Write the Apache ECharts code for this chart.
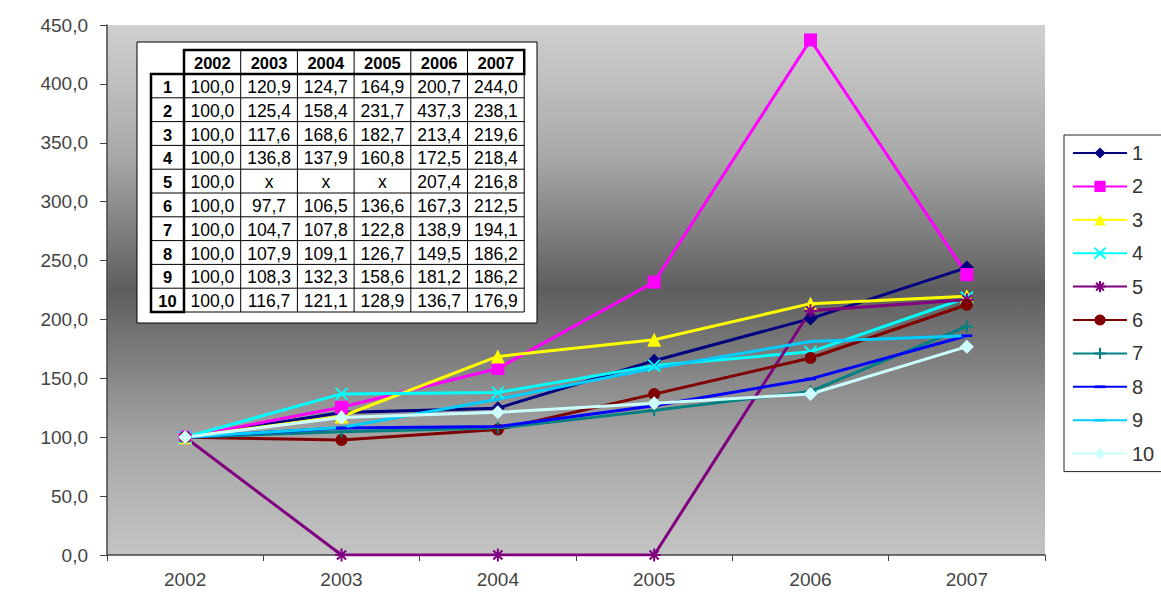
<!DOCTYPE html>
<html>
<head>
<meta charset="utf-8">
<script src="https://cdn.jsdelivr.net/npm/echarts@6/dist/echarts.min.js"></script>
<style>
  html, body { margin: 0; padding: 0; background: #fff; }
  #main { width: 1161px; height: 597px; }
</style>
</head>
<body>
<div id="main"></div>
<script>
// years along the x axis
var years = ['2002', '2003', '2004', '2005', '2006', '2007'];
// y axis
var yMin = 0, yMax = 450, yStep = 50;

// series values (null = "x" in the table, plotted as 0)
var s1  = [100.0, 120.9, 124.7, 164.9, 200.7, 244.0];
var s2  = [100.0, 125.4, 158.4, 231.7, 437.3, 238.1];
var s3  = [100.0, 117.6, 168.6, 182.7, 213.4, 219.6];
var s4  = [100.0, 136.8, 137.9, 160.8, 172.5, 218.4];
var s5  = [100.0, null, null, null, 207.4, 216.8];
var s6  = [100.0, 97.7, 106.5, 136.6, 167.3, 212.5];
var s7  = [100.0, 104.7, 107.8, 122.8, 138.9, 194.1];
var s8  = [100.0, 107.9, 109.1, 126.7, 149.5, 186.2];
var s9  = [100.0, 108.3, 132.3, 158.6, 181.2, 186.2];
var s10 = [100.0, 116.7, 121.1, 128.9, 136.7, 176.9];

var names = ['1', '2', '3', '4', '5', '6', '7', '8', '9', '10'];
var allData = [s1, s2, s3, s4, s5, s6, s7, s8, s9, s10];

var colors = ['#000080', '#ff00ff', '#ffff00', '#00ffff', '#800080',
              '#800000', '#008080', '#0000ff', '#00ccff', '#ccffff'];

var X_PATH = 'path://M0,0L10,10M10,0L0,10';
var STAR_PATH = 'path://M0,5L10,5M5,0L5,10M1.5,1.5L8.5,8.5M8.5,1.5L1.5,8.5';
var PLUS_PATH = 'path://M0,5L10,5M5,0L5,10';
// the two lone moves only widen the box so the dash stays flat
var DASH_PATH = 'path://M0,0M10,10M0,3.8L10,3.8L10,6.2L0,6.2Z';

var symbols = ['diamond', 'rect', 'triangle', X_PATH, STAR_PATH,
               'circle', PLUS_PATH, DASH_PATH, DASH_PATH, 'diamond'];
var symbolSizes = [14, 13, 14, 12, 13, 12, 12, 11, 10, 14];
var stroked = [false, false, false, true, true, false, true, false, false, false];

function fmt(v) {
    return v == null ? 'x' : v.toFixed(1).replace('.', ',');
}

var series = allData.map(function (arr, i) {
    return {
        name: names[i],
        type: 'line',
        data: arr.map(function (v) { return v == null ? 0 : v; }),
        symbol: symbols[i],
        symbolSize: symbolSizes[i],
        showSymbol: i !== 8,
        lineStyle: { color: colors[i], width: 3 },
        itemStyle: stroked[i]
            ? { color: colors[i], borderColor: colors[i], borderWidth: 2 }
            : { color: colors[i], borderWidth: 0 },
        emphasis: { disabled: true },
        animation: false
    };
});

// data table drawn inside the plot
var tbl = { x: 137, y: 42, w: 400, h: 281, labX: 151, labW: 33, colX: 184, colW: 56.7, headY: 50, headH: 24, rowH: 23.8 };
var g = [];
g.push({ type: 'rect', shape: { x: tbl.x, y: tbl.y, width: tbl.w, height: tbl.h },
         style: { fill: '#fff', stroke: '#000', lineWidth: 1 }, z: 100 });
var bodyY = tbl.headY + tbl.headH;
var bodyH = tbl.rowH * names.length;
var txtFont = '17.5px "Liberation Sans", Arial, sans-serif';
var boldFont = 'bold 16.5px "Liberation Sans", Arial, sans-serif';
// thin grid lines in body
for (var r = 1; r <= names.length; r++) {
    var yy = bodyY + r * tbl.rowH;
    g.push({ type: 'line', shape: { x1: tbl.labX, y1: yy, x2: tbl.colX + 6 * tbl.colW, y2: yy },
             style: { stroke: '#000', lineWidth: 1 }, z: 101 });
}
for (var c = 1; c <= years.length; c++) {
    var xx = tbl.colX + c * tbl.colW;
    g.push({ type: 'line', shape: { x1: xx, y1: tbl.headY, x2: xx, y2: bodyY + bodyH },
             style: { stroke: '#000', lineWidth: 1 }, z: 101 });
}
// thick borders round header row and label column
g.push({ type: 'rect', shape: { x: tbl.colX, y: tbl.headY, width: 6 * tbl.colW, height: tbl.headH },
         style: { fill: null, stroke: '#000', lineWidth: 2.5 }, z: 102 });
g.push({ type: 'rect', shape: { x: tbl.labX, y: bodyY, width: tbl.labW, height: bodyH },
         style: { fill: null, stroke: '#000', lineWidth: 2.5 }, z: 102 });
years.forEach(function (yr, c) {
    g.push({ type: 'text', x: tbl.colX + (c + 0.5) * tbl.colW, y: tbl.headY + tbl.headH / 2 + 1,
             style: { text: yr, font: boldFont, fill: '#000', align: 'center', verticalAlign: 'middle' }, z: 103 });
});
names.forEach(function (nm, r) {
    var cy = bodyY + (r + 0.5) * tbl.rowH + 1;
    g.push({ type: 'text', x: tbl.labX + tbl.labW / 2, y: cy,
             style: { text: nm, font: boldFont, fill: '#000', align: 'center', verticalAlign: 'middle' }, z: 103 });
    allData[r].forEach(function (v, c) {
        g.push({ type: 'text', x: tbl.colX + (c + 0.5) * tbl.colW, y: cy,
                 style: { text: fmt(v), font: txtFont, fill: '#000', align: 'center', verticalAlign: 'middle' }, z: 103 });
    });
});

var chart = echarts.init(document.getElementById('main'), null, { renderer: 'svg' });
chart.setOption({
    animation: false,
    backgroundColor: '#fff',
    color: colors,
    grid: {
        left: 107, right: 116, top: 25, bottom: 42,
        show: true,
        borderWidth: 0,
        backgroundColor: {
            type: 'linear', x: 0, y: 0, x2: 0, y2: 1,
            colorStops: [
                { offset: 0, color: '#d0d0d0' },
                { offset: 0.25, color: '#a8a8a8' },
                { offset: 0.5, color: '#5e5e5e' },
                { offset: 0.78, color: '#a5a5a5' },
                { offset: 1, color: '#c4c4c4' }
            ]
        }
    },
    legend: {
        orient: 'vertical',
        left: 1064,
        top: 135,
        padding: [8, 20, 8, 8],
        itemWidth: 54,
        itemHeight: 14,
        itemGap: 13.4,
        backgroundColor: '#fff',
        borderColor: '#222',
        borderWidth: 1,
        textStyle: { fontSize: 20, color: '#333', fontFamily: '"Liberation Sans", Arial, sans-serif' },
        data: names
    },
    xAxis: {
        type: 'category',
        data: years,
        boundaryGap: true,
        axisLine: { lineStyle: { color: '#444', width: 1.5 } },
        axisTick: { show: true, length: 6, lineStyle: { color: '#444' } },
        axisLabel: { fontSize: 19, color: '#444', margin: 15, fontFamily: '"Liberation Sans", Arial, sans-serif' }
    },
    yAxis: {
        type: 'value',
        min: yMin, max: yMax, interval: yStep,
        axisLine: { show: true, lineStyle: { color: '#444', width: 1.5 } },
        axisTick: { show: true, length: 7, lineStyle: { color: '#444' } },
        axisLabel: {
            fontSize: 19, color: '#444', margin: 19,
            fontFamily: '"Liberation Sans", Arial, sans-serif',
            formatter: function (v) { return v.toFixed(1).replace('.', ','); }
        },
        splitLine: { lineStyle: { color: '#2a2a2a', width: 1.5, shadowColor: 'rgba(255,255,255,0.5)', shadowOffsetY: 2 } }
    },
    graphic: g,
    series: series
});
</script>
</body>
</html>
